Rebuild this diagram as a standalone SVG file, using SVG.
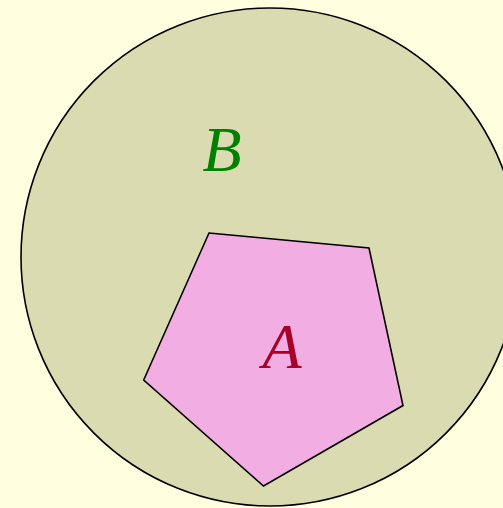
<svg xmlns="http://www.w3.org/2000/svg" width="503" height="508" viewBox="0 0 503 508">
<style>
.lbl{font-family:"Liberation Serif","DejaVu Serif",serif;font-style:italic;font-size:64px;text-anchor:middle}
.shape{stroke:#000;stroke-width:1.6}
</style>
<rect x="0" y="0" width="503" height="508" fill="#ffffe0"/>
<g id="B">
<circle class="shape" cx="270" cy="257" r="249" fill="#dbdbb1"/>
<text class="lbl" x="222" y="171" fill="#008000">B</text>
</g>
<g id="A">
<polygon class="shape" points="209,233 369,248 403,405.5 263.5,486 143.7,380" fill="#f2aee2"/>
<text class="lbl" x="282" y="368" fill="#a8002a">A</text>
</g>
<g id="connectors"/>
</svg>
